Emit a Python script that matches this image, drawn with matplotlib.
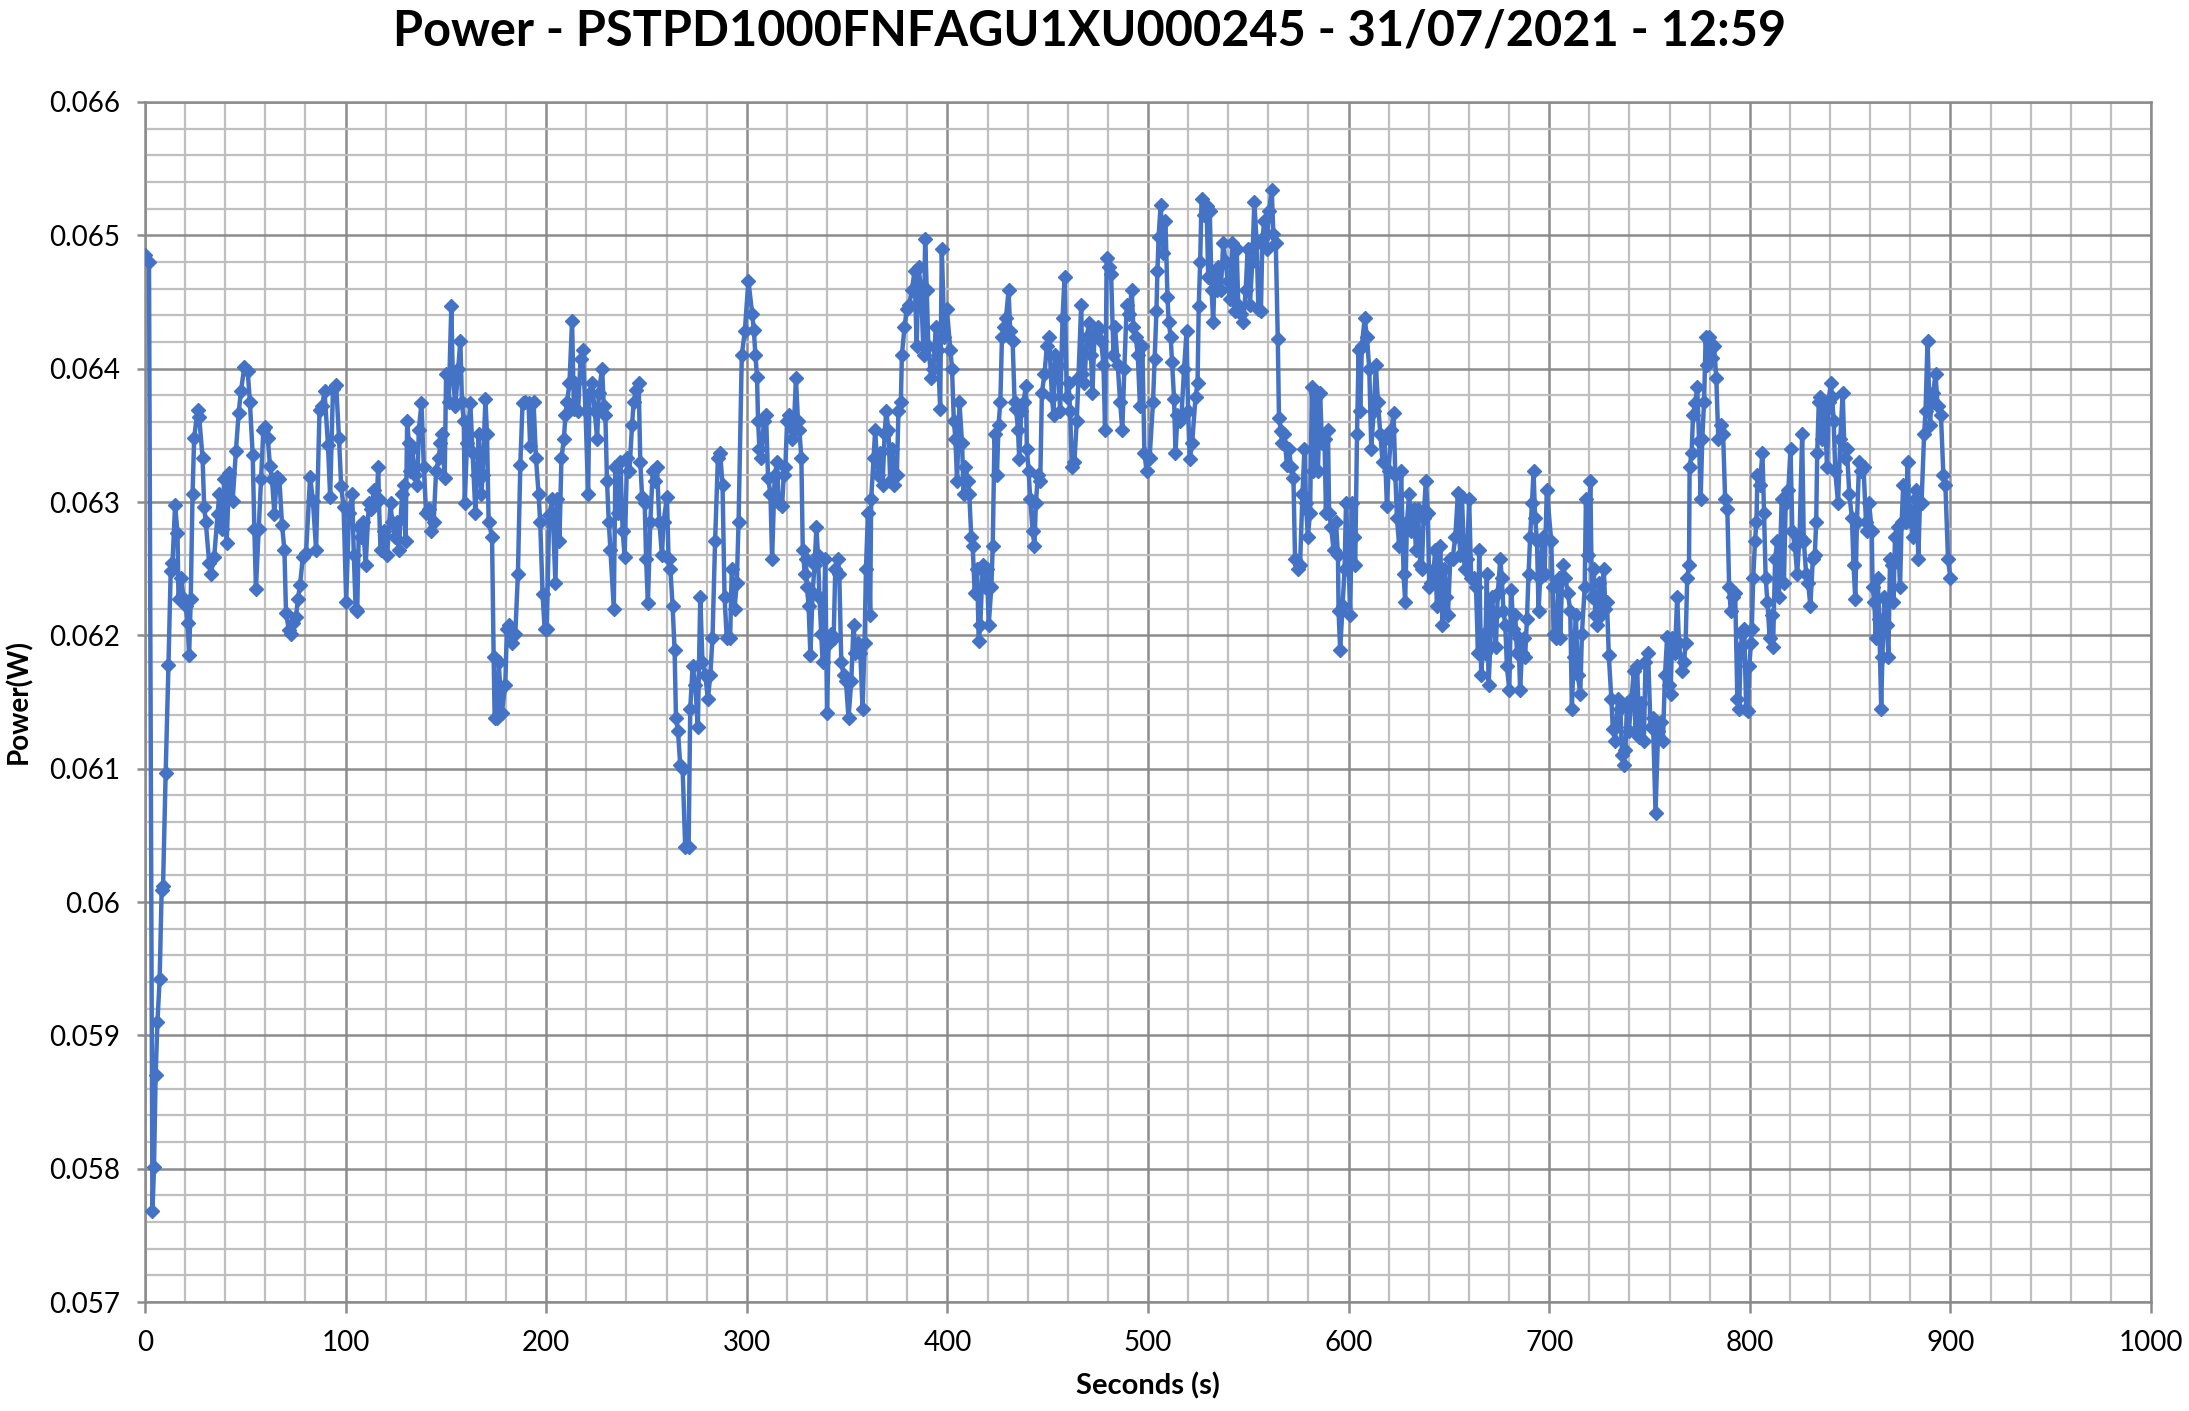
import numpy as np
import matplotlib
matplotlib.use("Agg")
import matplotlib.pyplot as plt
from matplotlib.ticker import MultipleLocator, FixedLocator, FixedFormatter

plt.rcParams['font.family'] = ['Lato', 'DejaVu Sans']

# Time (s) and power (mW), one pair per 100 s stretch
sec_0 = [0.0, 2.0, 3.7, 4.5, 5.3, 6.2, 7.3, 8.3, 9.0, 10.3, 11.7, 12.8, 13.7, 15.0, 16.2, 16.7, 17.8,
         19.5, 20.3, 21.2, 22.0, 22.8, 23.7, 24.5, 26.2, 27.0, 28.7, 29.5, 30.3, 32.0, 32.8, 34.5,
         36.2, 37.0, 38.3, 39.5, 40.7, 42.0, 43.7, 45.3, 46.7, 47.8, 49.5, 51.2, 52.3, 53.7, 54.5,
         55.3, 56.7, 57.8, 59.0, 60.0, 61.2, 62.3, 63.3, 64.5, 65.7, 67.0, 68.3, 69.5, 70.3, 71.7,
         72.8, 74.0, 75.3, 76.2, 77.3, 78.7, 80.3, 82.3, 83.7, 85.3, 87.0, 88.3, 89.5, 91.2, 92.3,
         93.7, 95.3, 96.7, 97.8, 99.0, 100.3]
mw_0 = [64.85, 64.80, 57.68, 58.01, 58.70, 59.10, 59.42, 60.09, 60.12, 60.97, 61.78, 62.48, 62.54,
        62.98, 62.77, 62.27, 62.43, 62.27, 62.22, 62.09, 61.85, 62.27, 63.06, 63.48, 63.69, 63.64,
        63.33, 62.96, 62.85, 62.54, 62.46, 62.59, 62.91, 63.06, 62.80, 63.17, 62.69, 63.22, 63.01,
        63.38, 63.67, 63.83, 64.01, 63.98, 63.75, 63.35, 62.80, 62.35, 62.80, 63.17, 63.54, 63.56,
        63.48, 63.27, 63.17, 62.91, 63.19, 63.17, 62.83, 62.64, 62.17, 62.04, 62.01, 62.09, 62.14,
        62.27, 62.38, 62.59, 62.62, 63.19, 63.01, 62.64, 63.69, 63.72, 63.83, 63.43, 63.04, 63.85,
        63.88, 63.48, 63.12, 62.96, 62.25]

sec_1 = [101.7, 103.3, 104.1, 105.0, 105.8, 106.6, 107.5, 108.6, 110.0, 111.6, 112.9, 114.1, 115.3,
         116.3, 116.6, 117.4, 119.1, 120.7, 122.4, 123.2, 124.5, 125.7, 126.5, 128.2, 129.0, 129.9,
         130.7, 131.5, 132.3, 133.2, 134.5, 135.7, 136.5, 137.8, 139.0, 140.1, 141.5, 142.8, 143.9,
         145.1, 146.4, 147.3, 148.1, 149.4, 150.1, 151.4, 152.7, 153.4, 154.7, 156.1, 157.2, 158.0,
         158.9, 159.4, 160.5, 162.2, 163.3, 164.7, 165.5, 166.3, 167.7, 168.3, 169.7, 170.5, 171.3,
         173.0, 173.8, 174.3, 175.5, 176.3, 177.9, 179.6, 180.4, 181.6, 182.9, 184.6, 185.9, 187.1,
         188.2, 189.6, 191.2, 192.0, 193.7, 194.9, 196.2, 197.0, 198.2, 199.2, 200.3]
mw_1 = [62.92, 63.06, 62.60, 62.20, 62.18, 62.81, 62.74, 62.85, 62.53, 62.99, 62.95, 63.09, 62.99,
        63.26, 63.02, 62.64, 62.78, 62.60, 62.99, 62.85, 62.74, 62.85, 62.64, 63.06, 63.13, 62.71,
        63.61, 63.44, 63.23, 63.40, 63.20, 63.13, 63.54, 63.74, 63.26, 62.92, 62.95, 62.78, 62.85,
        63.23, 63.33, 63.44, 63.51, 63.18, 63.96, 63.75, 64.47, 63.96, 63.72, 64.00, 64.21, 63.75,
        63.61, 62.99, 63.44, 63.74, 63.37, 62.92, 63.20, 63.51, 63.06, 63.20, 63.77, 63.51, 62.85,
        62.74, 61.84, 61.38, 61.38, 61.80, 61.42, 61.63, 62.05, 62.08, 61.94, 62.01, 62.46, 63.28,
        63.74, 63.75, 63.74, 63.42, 63.75, 63.33, 63.06, 62.85, 62.31, 62.05, 62.05]

sec_2 = [201.5, 203.0, 204.6, 205.5, 206.6, 207.6, 208.8, 209.6, 210.4, 211.6, 212.9, 213.8, 214.6,
         215.9, 217.1, 218.2, 219.6, 220.9, 221.6, 222.9, 224.2, 225.4, 226.2, 227.9, 228.7, 229.5,
         230.3, 231.2, 232.0, 233.7, 234.5, 235.8, 237.0, 238.1, 239.1, 240.3, 241.5, 242.8, 243.6,
         244.8, 246.1, 246.9, 247.8, 249.1, 249.8, 250.7, 251.9, 253.1, 254.1, 255.2, 256.4, 257.7,
         258.5, 260.2, 261.0, 261.9, 263.0, 264.0, 264.7, 265.7, 266.8, 268.0, 269.3, 271.0, 271.8,
         273.0, 274.3, 275.6, 276.8, 277.9, 279.3, 280.6, 281.8, 282.9, 284.2, 285.6, 286.7, 287.9,
         288.9, 290.0, 291.7, 292.5, 293.9, 295.0, 295.9, 297.5, 299.0, 300.8]
mw_2 = [62.90, 63.02, 62.39, 63.02, 62.71, 63.33, 63.47, 63.65, 63.75, 63.89, 64.36, 63.70, 63.89,
        63.68, 64.07, 64.14, 63.68, 63.06, 63.82, 63.89, 63.68, 63.47, 63.82, 64.00, 63.72, 63.65,
        63.16, 62.85, 62.64, 62.20, 63.26, 62.92, 63.30, 62.78, 62.59, 63.33, 63.23, 63.58, 63.75,
        63.84, 63.89, 63.30, 63.04, 62.99, 62.57, 62.24, 62.85, 63.23, 63.16, 63.26, 62.85, 62.60,
        62.85, 63.04, 62.57, 62.50, 62.22, 61.89, 61.38, 61.28, 61.03, 61.00, 60.41, 60.41, 61.45,
        61.77, 61.63, 61.31, 62.29, 61.80, 61.70, 61.52, 61.70, 61.98, 62.71, 63.33, 63.37, 63.13,
        62.29, 61.98, 61.98, 62.50, 62.20, 62.39, 62.85, 64.10, 64.28, 64.66]

sec_3 = [302.7, 303.5, 304.3, 305.1, 305.6, 306.3, 307.3, 308.5, 309.6, 310.6, 311.8, 312.6, 313.9,
         315.1, 315.9, 317.6, 318.4, 319.2, 320.1, 321.2, 322.6, 323.4, 324.5, 325.5, 326.2, 327.2,
         327.9, 328.9, 329.5, 330.0, 330.8, 331.7, 332.8, 333.8, 334.7, 335.5, 336.2, 337.1, 337.8,
         339.1, 340.0, 340.8, 342.1, 343.3, 344.1, 345.4, 346.1, 347.1, 348.3, 349.4, 350.7, 352.1,
         353.2, 354.1, 355.4, 356.6, 357.7, 358.7, 359.4, 360.4, 361.5, 362.0, 363.2, 364.0, 365.3,
         366.5, 367.7, 368.7, 369.5, 370.6, 371.5, 372.6, 373.6, 374.8, 375.6, 376.8, 377.3, 378.6,
         379.8, 380.9, 382.3, 383.6, 384.7, 385.6, 386.9, 388.1, 388.9, 389.7, 390.5, 391.9, 393.0,
         394.2, 395.2, 396.4, 397.2, 398.5, 399.7]
mw_3 = [64.41, 64.29, 64.10, 63.94, 63.61, 63.40, 63.33, 63.61, 63.65, 63.18, 63.06, 62.57, 63.20,
        63.30, 62.99, 62.97, 63.20, 63.26, 63.61, 63.65, 63.47, 63.54, 63.93, 63.61, 63.54, 63.33,
        62.64, 62.46, 62.57, 62.36, 62.22, 61.85, 62.32, 62.53, 62.81, 62.60, 62.29, 62.01, 61.80,
        62.57, 61.42, 61.94, 62.01, 61.98, 62.50, 62.57, 62.46, 61.80, 61.70, 61.66, 61.38, 61.66,
        62.08, 61.87, 61.94, 61.87, 61.45, 61.94, 62.50, 62.92, 62.15, 63.02, 63.33, 63.54, 63.20,
        63.37, 63.13, 63.51, 63.68, 63.54, 63.16, 63.40, 63.13, 63.20, 63.68, 63.75, 64.10, 64.31,
        64.45, 64.48, 64.59, 64.73, 64.17, 64.76, 64.59, 64.10, 64.97, 64.59, 64.17, 63.93, 64.00,
        64.31, 64.14, 63.70, 64.90, 64.24, 64.45]

sec_4 = [401.5, 402.3, 403.2, 404.0, 404.8, 406.0, 407.3, 408.1, 409.0, 410.3, 410.9, 411.9, 412.6,
         413.6, 414.8, 415.6, 416.4, 417.6, 418.9, 419.7, 420.6, 421.9, 422.6, 423.5, 424.7, 425.5,
         426.4, 427.2, 428.0, 429.2, 430.5, 431.3, 432.5, 433.5, 434.2, 435.2, 435.8, 436.8, 438.0,
         439.1, 439.6, 440.5, 441.3, 442.5, 443.4, 444.1, 445.1, 446.3, 447.1, 448.4, 449.6, 450.7,
         452.1, 452.9, 453.7, 455.1, 456.2, 457.4, 458.4, 459.5, 460.4, 461.2, 462.0, 463.3, 464.5,
         465.3, 466.7, 467.3, 468.3, 469.5, 470.6, 471.6, 472.3, 473.3, 474.5, 475.3, 476.6, 477.8,
         478.6, 479.4, 480.6, 481.6, 482.8, 483.6, 484.9, 486.1, 487.2, 488.2, 489.4, 490.5, 491.9,
         492.7, 493.9, 494.9, 496.0, 497.2, 498.2, 499.3]
mw_4 = [64.14, 64.00, 63.61, 63.47, 63.16, 63.75, 63.44, 63.06, 63.26, 63.16, 63.06, 62.74, 62.67,
        62.32, 62.50, 61.96, 62.08, 62.53, 62.36, 62.50, 62.08, 62.36, 62.67, 63.51, 63.20, 63.58,
        63.75, 64.24, 64.31, 64.38, 64.59, 64.28, 64.21, 63.75, 63.70, 63.54, 63.32, 63.68, 63.75,
        63.87, 63.40, 63.23, 63.02, 62.78, 62.67, 62.99, 63.20, 63.16, 63.82, 63.96, 64.17, 64.24,
        63.79, 63.65, 64.10, 64.03, 63.68, 64.38, 64.69, 63.79, 63.89, 63.68, 63.26, 63.30, 63.61,
        63.93, 64.48, 63.96, 63.89, 64.24, 64.34, 64.10, 63.82, 64.24, 64.28, 64.31, 64.21, 64.03,
        63.54, 64.83, 64.76, 64.71, 64.10, 64.31, 64.03, 63.75, 63.54, 64.00, 64.48, 64.41, 64.59,
        64.31, 64.24, 64.10, 63.72, 64.17, 63.37, 63.23]

sec_5 = [500.8, 502.5, 503.3, 504.2, 504.7, 505.3, 506.3, 507.5, 508.7, 509.7, 510.3, 511.3, 512.0,
         513.0, 513.7, 514.7, 515.8, 516.7, 518.0, 519.2, 520.0, 520.8, 522.0, 523.7, 524.7, 525.3,
         526.0, 526.7, 528.0, 529.2, 530.0, 530.8, 531.7, 532.5, 533.3, 534.2, 535.0, 536.3, 537.5,
         538.7, 539.7, 540.8, 542.0, 543.3, 544.2, 545.0, 546.3, 547.5, 548.7, 549.7, 550.8, 552.0,
         553.0, 554.2, 555.0, 556.3, 557.0, 558.0, 559.2, 560.3, 561.7, 562.5, 563.7, 564.7, 565.3,
         566.3, 567.0, 568.0, 569.2, 570.3, 571.3, 572.5, 573.3, 574.7, 575.8, 577.0, 578.0, 578.7,
         579.7, 580.8, 581.7, 582.5, 583.7, 584.7, 585.8, 586.7, 588.0, 588.7, 589.7, 590.3, 591.3,
         592.5, 593.7, 594.7, 595.0, 595.8, 597.0, 598.0, 598.7]
mw_5 = [63.33, 63.75, 64.07, 64.43, 64.73, 64.99, 65.23, 64.87, 65.11, 64.54, 64.35, 64.24, 64.05,
        63.77, 63.37, 63.65, 63.61, 63.65, 64.00, 64.28, 63.68, 63.32, 63.44, 63.79, 63.89, 64.47,
        64.80, 65.27, 65.15, 65.22, 64.69, 65.18, 64.59, 64.35, 64.73, 64.59, 64.76, 64.59, 64.94,
        64.80, 64.66, 64.52, 64.94, 64.43, 64.90, 64.48, 64.41, 64.35, 64.59, 64.90, 64.48, 64.80,
        65.25, 64.94, 64.45, 64.43, 64.97, 65.11, 64.90, 65.18, 65.34, 65.01, 64.94, 64.22, 63.63,
        63.53, 63.44, 63.51, 63.28, 63.40, 63.26, 63.18, 62.57, 62.50, 62.53, 63.06, 63.40, 62.99,
        62.74, 62.92, 63.86, 63.23, 63.82, 63.23, 63.82, 63.44, 63.47, 62.92, 63.54, 62.92, 62.81,
        62.64, 62.85, 62.60, 62.18, 61.89, 62.22, 62.50, 62.99]

sec_6 = [600.0, 600.8, 601.7, 602.5, 603.3, 604.2, 605.0, 605.8, 606.6, 608.0, 609.1, 610.3, 611.3,
         612.5, 613.6, 614.6, 615.8, 616.9, 617.9, 619.1, 619.9, 621.3, 622.4, 623.3, 624.1, 625.2,
         626.2, 627.4, 628.2, 629.1, 630.2, 631.2, 632.4, 633.6, 634.6, 635.7, 636.5, 637.4, 638.5,
         639.5, 640.2, 641.2, 642.4, 643.2, 644.0, 644.9, 645.7, 646.8, 647.8, 648.5, 649.5, 650.7,
         651.8, 653.2, 654.5, 655.6, 656.5, 657.8, 659.0, 660.1, 661.1, 662.3, 663.5, 664.5, 665.1,
         666.1, 667.3, 668.1, 668.9, 669.8, 670.6, 671.4, 672.3, 673.4, 674.4, 675.6, 676.4, 677.2,
         678.1, 678.9, 680.1, 681.1, 682.2, 683.1, 683.9, 684.7, 685.5, 686.4, 687.2, 688.0, 688.9,
         689.7, 690.5, 691.4, 692.2, 693.0, 693.9, 694.7, 695.5, 696.7, 697.7, 698.8]
mw_6 = [62.53, 62.15, 62.99, 62.74, 62.53, 63.51, 64.14, 63.68, 64.17, 64.38, 64.24, 64.00, 63.40,
        63.68, 64.03, 63.75, 63.51, 63.30, 63.47, 62.97, 63.23, 63.54, 63.67, 63.20, 62.88, 62.67,
        63.23, 62.46, 62.25, 62.85, 63.06, 62.78, 62.95, 62.64, 62.95, 62.53, 62.50, 62.88, 63.16,
        62.92, 62.36, 62.39, 62.50, 62.64, 62.22, 62.39, 62.67, 62.08, 62.50, 62.29, 62.15, 62.57,
        62.57, 62.74, 63.07, 62.60, 63.04, 62.50, 62.57, 63.02, 62.43, 62.43, 62.36, 61.87, 62.64,
        61.70, 62.01, 61.87, 62.46, 61.63, 61.91, 62.29, 62.15, 61.91, 62.32, 62.57, 62.43, 62.18,
        62.08, 61.77, 61.59, 62.34, 62.05, 62.15, 61.87, 61.98, 61.59, 61.87, 61.98, 61.84, 62.12,
        62.46, 62.74, 62.99, 63.23, 62.88, 62.71, 62.18, 62.43, 62.74, 62.46, 63.09]

sec_7 = [701.0, 701.7, 702.2, 703.3, 704.7, 705.5, 706.7, 708.0, 709.3, 710.5, 711.3, 712.2, 713.3,
         714.3, 715.5, 716.3, 717.7, 718.3, 719.3, 720.5, 721.3, 722.2, 723.0, 723.8, 725.0, 726.0,
         727.2, 728.0, 728.8, 729.7, 731.0, 731.7, 732.7, 733.3, 734.3, 735.5, 736.3, 737.2, 738.0,
         738.8, 739.7, 741.0, 742.2, 743.0, 743.8, 745.0, 746.0, 747.2, 748.0, 749.3, 750.5, 751.7,
         753.0, 754.3, 755.5, 756.7, 757.7, 758.8, 759.7, 760.5, 761.3, 762.7, 763.8, 764.7, 766.0,
         767.2, 768.0, 768.8, 769.7, 770.0, 771.0, 771.7, 772.7, 773.8, 774.7, 775.5, 776.3, 777.2,
         778.0, 778.8, 779.7, 780.5, 781.3, 782.2, 783.3, 784.3, 785.5, 786.7, 787.7, 788.8, 789.7,
         790.5, 791.7, 792.7, 793.8, 794.7, 795.5, 796.3, 797.2, 798.2, 799.0, 799.8]
mw_7 = [62.71, 62.36, 62.01, 61.98, 62.43, 61.98, 62.53, 62.43, 62.32, 62.18, 61.45, 61.84, 62.15,
        61.70, 61.56, 62.01, 62.36, 63.02, 62.60, 63.16, 62.29, 62.50, 62.15, 62.08, 62.39, 62.15,
        62.50, 62.20, 62.25, 61.85, 61.52, 61.30, 61.21, 61.31, 61.52, 61.45, 61.10, 61.03, 61.14,
        61.49, 61.28, 61.52, 61.73, 61.28, 61.77, 61.24, 61.49, 61.21, 61.80, 61.87, 61.31, 61.38,
        60.67, 61.28, 61.35, 61.21, 61.70, 61.99, 61.63, 61.56, 61.98, 61.87, 62.29, 61.94, 61.73,
        61.80, 61.94, 62.43, 62.53, 63.26, 63.37, 63.65, 63.74, 63.86, 63.46, 63.02, 63.47, 63.75,
        64.24, 64.03, 64.24, 64.17, 64.08, 64.17, 63.93, 63.47, 63.58, 63.51, 63.02, 62.95, 62.36,
        62.18, 62.29, 62.32, 61.52, 61.45, 61.91, 62.01, 62.05, 61.45, 61.43, 61.77]

sec_8 = [800.5, 801.0, 801.7, 802.6, 803.3, 803.8, 805.0, 806.3, 807.1, 807.9, 808.8, 809.9, 810.9,
         811.6, 812.6, 813.7, 814.5, 815.9, 817.0, 817.9, 819.2, 820.3, 821.2, 822.5, 823.6, 824.8,
         826.1, 826.9, 828.1, 829.1, 830.2, 831.4, 832.4, 833.1, 833.6, 834.4, 835.2, 836.0, 837.4,
         838.5, 839.3, 840.3, 841.0, 841.8, 842.6, 844.0, 845.1, 846.3, 847.3, 848.4, 849.6, 850.9,
         851.7, 852.6, 853.4, 854.5, 855.5, 856.7, 857.9, 858.3, 859.5, 860.8, 861.2, 862.1, 862.8,
         863.8, 864.5, 865.5, 866.1, 867.1, 868.3, 869.1, 869.9, 870.7, 871.6, 872.4, 873.7, 874.9,
         875.7, 876.5, 877.7, 878.7, 879.3, 880.3, 881.5, 882.3, 883.1, 884.0, 884.8, 885.6, 886.9,
         887.6, 888.6, 889.8, 890.6, 891.4, 892.6, 893.6, 895.3, 896.5, 897.5, 898.8, 900.0]
mw_8 = [61.94, 62.05, 62.43, 62.71, 62.85, 63.20, 63.13, 63.37, 62.92, 62.43, 62.25, 61.98, 62.15,
        61.91, 62.57, 62.71, 62.29, 63.02, 62.39, 62.99, 63.09, 63.40, 62.78, 62.67, 62.46, 62.74,
        63.51, 62.71, 62.46, 62.39, 62.22, 62.57, 62.60, 62.85, 63.37, 63.75, 63.79, 63.47, 63.68,
        63.26, 63.75, 63.89, 63.79, 63.61, 63.23, 62.99, 63.47, 63.82, 63.33, 63.40, 63.06, 62.88,
        62.53, 62.27, 62.85, 63.30, 63.23, 63.26, 62.85, 62.78, 62.99, 62.78, 62.36, 62.25, 61.98,
        62.43, 62.12, 61.45, 61.84, 62.29, 62.08, 61.84, 62.57, 62.53, 62.25, 62.74, 62.81, 62.36,
        62.85, 63.13, 62.85, 63.30, 62.95, 62.85, 62.74, 63.02, 63.09, 62.57, 62.99, 62.99, 63.51,
        63.68, 64.21, 63.58, 63.75, 63.82, 63.96, 63.72, 63.65, 63.20, 63.13, 62.57, 62.43]

seconds = np.concatenate([sec_0, sec_1, sec_2, sec_3, sec_4, sec_5, sec_6, sec_7, sec_8])
power = np.concatenate([mw_0, mw_1, mw_2, mw_3, mw_4, mw_5, mw_6, mw_7, mw_8]) / 1000.0

y_ticks = [0.057, 0.058, 0.059, 0.060, 0.061, 0.062, 0.063, 0.064, 0.065, 0.066]
y_tick_labels = ['0.057', '0.058', '0.059', '0.06', '0.061', '0.062', '0.063', '0.064', '0.065', '0.066']
x_ticks = [0, 100, 200, 300, 400, 500, 600, 700, 800, 900, 1000]

title = 'Power - PSTPD1000FNFAGU1XU000245 - 31/07/2021 - 12:59'

fig = plt.figure(figsize=(21.89, 14.11), dpi=100)
ax = fig.add_axes([145 / 2189, 1 - 1302 / 1411, 2006 / 2189, 1200 / 1411])

ax.plot(seconds, power, color='#4472C4', lw=3.2, marker='D', markersize=7.5,
        markerfacecolor='#4472C4', markeredgecolor='#4472C4', zorder=3)

ax.set_xlim(0, 1000)
ax.set_ylim(0.057, 0.066)
ax.xaxis.set_major_locator(FixedLocator(x_ticks))
ax.xaxis.set_minor_locator(MultipleLocator(20))
ax.yaxis.set_major_locator(FixedLocator(y_ticks))
ax.yaxis.set_major_formatter(FixedFormatter(y_tick_labels))
ax.yaxis.set_minor_locator(MultipleLocator(0.0002))

ax.grid(which='minor', color='#bfbfbf', lw=1.6, zorder=0)
ax.grid(which='major', color='#8c8c8c', lw=1.8, zorder=1)
ax.set_axisbelow(True)
for s in ax.spines.values():
    s.set_color('#8c8c8c')
    s.set_linewidth(1.8)

ax.tick_params(which='major', axis='x', length=8, width=1.8, color='#8c8c8c', pad=12, labelsize=20)
ax.tick_params(which='major', axis='y', length=6, width=1.8, color='#8c8c8c', pad=12, labelsize=20)
ax.tick_params(which='minor', length=0)

ax.set_xlabel('Seconds (s)', fontsize=21, fontweight='bold', labelpad=12)
ax.set_ylabel('Power(W)', fontsize=20, fontweight='bold', labelpad=12)

fig.text(1090 / 2189, 1 - 31 / 1411, title, ha='center', va='center', fontsize=35, fontweight='bold')

fig.savefig('out.png', dpi=100)
